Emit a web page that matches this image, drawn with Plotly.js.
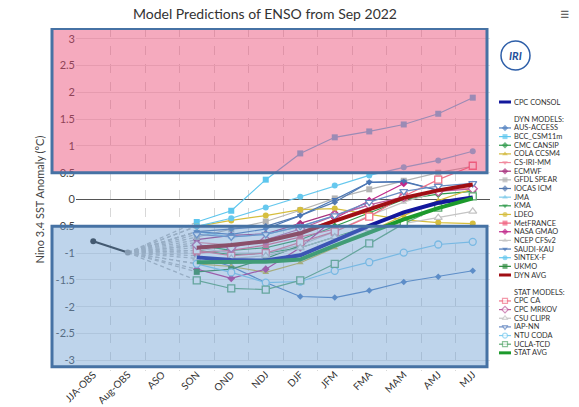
<!DOCTYPE html>
<html><head><meta charset="utf-8">
<script src="https://cdn.plot.ly/plotly-3.0.1.min.js"></script>
<style>body{margin:0;background:#fff}#chart{width:579px;height:407px}</style>
</head><body><div id="chart"></div>
<script>
// ---------------- DATA ----------------
const seasons = ['JJA-OBS','Aug-OBS','ASO','SON','OND','NDJ','DJF','JFM','FMA','MAM','AMJ','MJJ'];
const forecastSeasons = ['SON','OND','NDJ','DJF','JFM','FMA','MAM','AMJ','MJJ'];
const obsSeasons = ['JJA-OBS','Aug-OBS'];
const obsValues = [-0.78, -0.99];

const ausAccess  = [-1.05, -1.25, -1.55, -1.81, -1.83, -1.70, -1.54, -1.44, -1.33];
const bccCsm     = [-0.42, -0.21, 0.37, 0.86, 1.16, 1.27, 1.40, 1.60, 1.90];
const cmcCansip  = [-0.85, -0.95, -0.90, -0.75, -0.50, -0.25, 0.00, 0.10, 0.15];
const colaCcsm4  = [-1.20, -1.25, -1.36, -1.18, -0.90, -0.60, -0.30, -0.02, 0.20];
const csIriMm    = [-0.80, -0.85, -0.75, -0.60, -0.38, -0.15, 0.05, 0.15, 0.22];
const ecmwf      = [-0.75, -0.67, -0.64, -0.45, -0.25, null, null, null, null];
const gfdlSpear  = [-0.70, -0.55, -0.41, -0.20, 0.02, 0.19, 0.35, 0.50, 0.62];
const iocasIcm   = [-0.60, -0.55, -0.50, -0.30, -0.05, 0.32, 0.33, 0.17, 0.28];
const jma        = [-0.60, -0.70, -0.65, -0.50, -0.30, -0.10, null, null, null];
const kma        = [-0.95, -1.03, -1.00, -0.90, -0.70, -0.50, null, null, null];
const ldeo       = [-0.50, -0.39, -0.30, -0.19, -0.17, -0.28, -0.38, -0.43, -0.45];
const metFrance  = [-1.00, -0.95, -0.85, -0.70, -0.55, null, null, null, null];
const nasaGmao   = [-1.30, -1.47, -1.30, -0.90, -0.35, -0.02, 0.30, null, null];
const ncepCfsv2  = [-0.90, -1.00, -1.00, -0.85, -0.60, -0.30, -0.05, 0.15, 0.30];
const saudiKau   = [-0.60, -0.65, -0.55, -0.30, 0.00, 0.32, 0.34, 0.17, null];
const sintexF    = [-0.50, -0.35, -0.15, 0.05, 0.26, 0.45, 0.60, 0.73, 0.90];
const ukmo       = [-1.35, -1.30, -1.10, -0.86, null, null, null, null, null];
const dynAvg     = [-0.90, -0.85, -0.78, -0.63, -0.40, -0.18, 0.03, 0.17, 0.28];

const cpcCa      = [-0.95, -1.05, -1.00, -0.80, -0.60, -0.32, 0.06, 0.37, 0.63];
const cpcMrkov   = [-0.85, -0.90, -0.75, -0.55, -0.30, -0.10, 0.05, 0.15, 0.20];
const csuClipr   = [-1.10, -1.10, -1.05, -0.90, -0.70, -0.55, -0.45, -0.34, -0.22];
const iapNn      = [-0.65, -0.70, -0.65, -0.50, -0.30, -0.05, 0.15, 0.25, 0.30];
const ntuCoda    = [-1.20, -1.36, -1.55, -1.53, -1.33, -1.17, -0.99, -0.84, -0.79];
const uclaTcd    = [-1.51, -1.66, -1.68, -1.51, -1.20, -0.82, -0.45, -0.15, 0.06];
const statAvg    = [-1.17, -1.17, -1.16, -1.12, -0.86, -0.62, -0.37, -0.16, 0.02];

const cpcConsol  = [-1.08, -1.13, -1.14, -1.04, -0.77, -0.49, -0.24, -0.06, 0.04];

const yTickVals = [-3,-2.5,-2,-1.5,-1,-0.5,0,0.5,1,1.5,2,2.5,3];
const yTickText = ['-3','-2.5','-2','-1.5','-1','-0.5','0','0.5','1','1.5','2','2.5','3'];

const dynNames = ['AUS-ACCESS','BCC_CSM11m','CMC CANSIP','COLA CCSM4','CS-IRI-MM','ECMWF','GFDL SPEAR','IOCAS ICM','JMA','KMA','LDEO','MetFRANCE','NASA GMAO','NCEP CFSv2','SAUDI-KAU','SINTEX-F','UKMO'];
const dynValues = [ausAccess,bccCsm,cmcCansip,colaCcsm4,csIriMm,ecmwf,gfdlSpear,iocasIcm,jma,kma,ldeo,metFrance,nasaGmao,ncepCfsv2,saudiKau,sintexF,ukmo];
const statNames = ['CPC CA','CPC MRKOV','CSU CLIPR','IAP-NN','NTU CODA','UCLA-TCD'];
const statValues = [cpcCa,cpcMrkov,csuClipr,iapNn,ntuCoda,uclaTcd];

// ---------------- STYLES ----------------
const dynStyles = [
  {c:'#4f7fbf', s:'diamond', z:5},
  {c:'#5cc6ee', s:'square', z:6},
  {c:'#2f9a4c', s:'diamond', z:6},
  {c:'#d2b83a', s:'triangle-up', z:6},
  {c:'#f28a9e', s:'triangle-down', z:6},
  {c:'#a8327e', s:'diamond', z:6},
  {c:'#b4b4b4', s:'square', z:6},
  {c:'#5479b0', s:'diamond', z:5},
  {c:'#7fcbea', s:'triangle-up', z:6},
  {c:'#2f9a4c', s:'triangle-down', z:6},
  {c:'#d6be3e', s:'circle', z:6},
  {c:'#f0607e', s:'square', z:6},
  {c:'#c0288a', s:'diamond', z:6},
  {c:'#c6c6c6', s:'triangle-up', z:6},
  {c:'#4a76b6', s:'triangle-down', z:6},
  {c:'#66c8ee', s:'circle', z:6},
  {c:'#2e8b3e', s:'square', z:6}
];
const statStyles = [
  {c:'#f07088', s:'square', z:7},
  {c:'#c060a0', s:'diamond', z:7},
  {c:'#c4c4c4', s:'triangle-up', z:7},
  {c:'#6a8cc4', s:'triangle-down', z:7},
  {c:'#7fcdf0', s:'circle', z:7},
  {c:'#5eaa72', s:'square', z:7}
];
const consolColor = '#13189c', dynAvgColor = '#a00f14', statAvgColor = '#1c9a2c';

const traces = [];
// dashed connectors from last observation to first forecast season
[...dynValues, ...statValues].forEach(v => {
  traces.push({x:[obsSeasons[1], forecastSeasons[0]], y:[obsValues[1], v[0]], mode:'lines',
    line:{color:'#b8b8b8', width:1.3, dash:'4px,3px'}, hoverinfo:'skip', showlegend:false});
});
dynValues.forEach((v,i) => {
  const st = dynStyles[i];
  traces.push({x:forecastSeasons, y:v, mode:'lines+markers', name:dynNames[i], showlegend:false,
    line:{color:st.c, width:1.2}, marker:{symbol:st.s, size:st.z, color:st.c}});
});
statValues.forEach((v,i) => {
  const st = statStyles[i];
  traces.push({x:forecastSeasons, y:v, mode:'lines+markers', name:statNames[i], showlegend:false,
    line:{color:st.c, width:1.2}, marker:{symbol:st.s, size:st.z, color:'#ffffff', line:{color:st.c, width:1.3}}});
});
traces.push({x:forecastSeasons, y:dynAvg, mode:'lines', name:'DYN AVG', showlegend:false, line:{color:dynAvgColor, width:4}});
traces.push({x:forecastSeasons, y:cpcConsol, mode:'lines', name:'CPC CONSOL', showlegend:false, line:{color:consolColor, width:4}});
traces.push({x:forecastSeasons, y:statAvg, mode:'lines', name:'STAT AVG', showlegend:false, line:{color:statAvgColor, width:4}});
traces.push({x:obsSeasons, y:obsValues, mode:'lines+markers', name:'OBS', showlegend:false,
  line:{color:'#222', width:2}, marker:{size:6, color:['#222','#999']}});

// ---------------- CUSTOM LEGEND (pixel coordinates on hidden axes x2/y2) ----------------
const annotations = [];
const legY0 = 102, legStep = 8.65, lx0 = 499, lx1 = 511, ltx = 513;
function legendItem(slot, label, color, symbol, size, open, thick) {
  const y = legY0 + slot*legStep;
  if (thick) {
    traces.push({x:[lx0,lx1], y:[y,y], xaxis:'x2', yaxis:'y2', mode:'lines', showlegend:false, hoverinfo:'skip', line:{color:color, width:3}});
  } else {
    traces.push({x:[lx0,(lx0+lx1)/2,lx1], y:[y,y,y], xaxis:'x2', yaxis:'y2', mode:'lines+markers', showlegend:false, hoverinfo:'skip',
      line:{color:color, width:1.2},
      marker:{symbol:symbol, size:[0,size,0], color: open ? '#ffffff' : color, line:{color:color, width: open ? 1.2 : 0}}});
  }
  annotations.push({xref:'x2', yref:'y2', x:ltx, y:y, text:label, showarrow:false, xanchor:'left', yanchor:'middle',
    font:{size:7.4, color:'#333'}, borderpad:0});
}
function legendHeader(slot, label) {
  annotations.push({xref:'x2', yref:'y2', x:ltx, y:legY0 + slot*legStep, text:label, showarrow:false, xanchor:'left', yanchor:'middle',
    font:{size:7.4, color:'#333'}, borderpad:0});
}
legendItem(0, 'CPC CONSOL', consolColor, null, 0, false, true);
legendHeader(2, 'DYN MODELS:');
dynNames.forEach((n,i) => legendItem(3+i, n, dynStyles[i].c, dynStyles[i].s, 5, false, false));
legendItem(20, 'DYN AVG', dynAvgColor, null, 0, false, true);
legendHeader(22, 'STAT MODELS:');
statNames.forEach((n,i) => legendItem(23+i, n, statStyles[i].c, statStyles[i].s, 5, true, false));
legendItem(29, 'STAT AVG', statAvgColor, null, 0, false, true);

// IRI logo & menu icon
annotations.push({xref:'x2', yref:'y2', x:515.5, y:55.5, text:'<b><i>IRI</i></b>', showarrow:false, xanchor:'center', yanchor:'middle', font:{size:11, color:'#1f4f9a'}});
annotations.push({xref:'paper', yref:'paper', x:(565-76)/503, y:(371-13)/343, text:'≡', showarrow:false, xanchor:'center', yanchor:'middle', font:{size:17, color:'#666'}});

const xL = (52-76)/503, xR = (487-76)/503;
const shapes = [
  {type:'rect', xref:'paper', yref:'y', x0:xL, x1:xR, y0:0.5, y1:3.19, layer:'above', line:{width:0}, fillcolor:'rgba(233,66,110,0.45)'},
  {type:'rect', xref:'paper', yref:'y', x0:xL, x1:xR, y0:-0.5, y1:-3.12, layer:'above', line:{width:0}, fillcolor:'rgba(110,159,210,0.45)'},
  {type:'line', xref:'paper', yref:'y', x0:0, x1:414/503, y0:0.5, y1:0.5, layer:'above', line:{color:'#888', width:1.4, dash:'dash'}},
  {type:'line', xref:'paper', yref:'y', x0:0, x1:414/503, y0:-0.5, y1:-0.5, layer:'above', line:{color:'#888', width:1.4, dash:'dash'}},
  {type:'rect', xref:'paper', yref:'y', x0:xL, x1:xR, y0:0.5, y1:3.19, layer:'above', line:{width:3, color:'#4672a4'}, fillcolor:'rgba(0,0,0,0)'},
  {type:'rect', xref:'paper', yref:'y', x0:xL, x1:xR, y0:-0.5, y1:-3.12, layer:'above', line:{width:3, color:'#4672a4'}, fillcolor:'rgba(0,0,0,0)'},
  {type:'circle', xref:'x2', yref:'y2', x0:501, x1:530, y0:41, y1:70, layer:'above', line:{width:1.5, color:'#2d5ea8'}, fillcolor:'#ffffff'}
];

const layout = {
  width:579, height:407,
  margin:{l:76, r:0, t:28, b:36},
  paper_bgcolor:'#ffffff', plot_bgcolor:'rgba(0,0,0,0)',
  font:{family:'Lato, "Open Sans", sans-serif', color:'#333'},
  title:{text:'Model Predictions of ENSO from Sep 2022', x:265/579, xref:'container', xanchor:'center',
         y:1-14/407, yref:'container', yanchor:'middle', font:{size:14, color:'#333'}},
  showlegend:false,
  xaxis:{type:'category', categoryorder:'array', categoryarray:seasons, range:[-0.5,11.5], domain:[0,414/503],
         tickson:'boundaries', showgrid:true, gridcolor:'#d8d8d8', griddash:'dash', gridwidth:1,
         ticks:'', tickangle:-45, tickfont:{size:10, color:'#333'}, ticklabelstandoff:-5, showline:false, zeroline:false, fixedrange:true},
  yaxis:{range:[-3.2,3.2], tickvals:yTickVals, ticktext:yTickText, showgrid:true, gridcolor:'#e4e4e4',
         zeroline:true, zerolinecolor:'#555', zerolinewidth:1.5, ticks:'', tickfont:{size:11, color:'#444'},
         title:{text:'Nino 3.4 SST Anomaly (°C)', font:{size:11, color:'#444'}}, showline:false, fixedrange:true},
  xaxis2:{domain:[0,1], range:[76,579], visible:false, anchor:'y2', fixedrange:true},
  yaxis2:{domain:[0,1], range:[371,28], visible:false, anchor:'x2', fixedrange:true},
  shapes:shapes, annotations:annotations
};
Plotly.newPlot('chart', traces, layout, {displayModeBar:false, staticPlot:true});
</script></body></html>
